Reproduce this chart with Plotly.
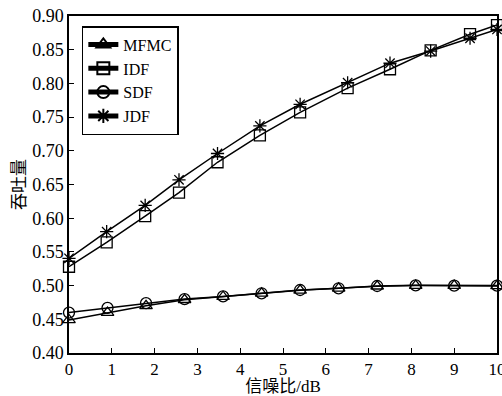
import plotly.graph_objects as go

# Data
x_low = [0, 0.9, 1.8, 2.7, 3.6, 4.5, 5.4, 6.3, 7.2, 8.1, 9.0, 10]
mfmc = [0.449, 0.460, 0.470, 0.479, 0.4835, 0.4886, 0.4930, 0.4960, 0.4990, 0.5000, 0.5000, 0.4995]
sdf = [0.460, 0.467, 0.474, 0.480, 0.4840, 0.4886, 0.4935, 0.4960, 0.4994, 0.5004, 0.5000, 0.5000]

x_high = [0, 0.88, 1.78, 2.57, 3.47, 4.46, 5.40, 6.51, 7.50, 8.45, 9.37, 10]
idf = [0.528, 0.564, 0.603, 0.638, 0.683, 0.723, 0.757, 0.793, 0.821, 0.849, 0.873, 0.8866]
jdf = [0.5405, 0.580, 0.619, 0.657, 0.696, 0.737, 0.769, 0.801, 0.830, 0.848, 0.867, 0.880]

series = [
    ("MFMC", x_low, mfmc, "triangle-up-open"),
    ("IDF", x_high, idf, "square-open"),
    ("SDF", x_low, sdf, "circle-open"),
    ("JDF", x_high, jdf, "asterisk-open"),
]

x_ticks = list(range(0, 11))
y_ticks = [0.40, 0.45, 0.50, 0.55, 0.60, 0.65, 0.70, 0.75, 0.80, 0.85, 0.90]

font_family = "Liberation Serif, Noto Sans CJK SC"

fig = go.Figure()
for name, xs, ys, sym in series:
    fig.add_trace(go.Scatter(
        x=xs, y=ys, name=name, mode="lines+markers",
        line=dict(color="black", width=1.5),
        marker=dict(symbol=sym, size=11, color="black",
                    line=dict(color="black", width=1.3)),
        cliponaxis=False,
    ))

fig.update_layout(
    width=502, height=396,
    margin=dict(l=69, r=5, t=16, b=43),
    paper_bgcolor="white", plot_bgcolor="white",
    font=dict(family=font_family, size=16, color="black"),
    showlegend=True,
    legend=dict(
        x=0.03, y=0.97, xanchor="left", yanchor="top",
        bordercolor="black", borderwidth=1.5, bgcolor="white",
        font=dict(family=font_family, size=16, color="black"),
        tracegroupgap=0, itemsizing="constant",
    ),
    xaxis=dict(
        range=[0, 10], tickvals=x_ticks, ticktext=[str(v) for v in x_ticks],
        showline=True, linecolor="black", linewidth=1.5, mirror=True,
        ticks="inside", ticklen=5, tickcolor="black", tickwidth=1.2,
        showgrid=False, zeroline=False, ticklabeloverflow="allow",
        automargin=False,
        title=dict(text="信噪比/dB", font=dict(size=17), standoff=2),
        tickfont=dict(size=17),
    ),
    yaxis=dict(
        range=[0.40, 0.90], tickvals=y_ticks,
        ticktext=[f"{v:.2f}" for v in y_ticks],
        showline=True, linecolor="black", linewidth=1.5, mirror=True,
        ticks="inside", ticklen=5, tickcolor="black", tickwidth=1.2,
        showgrid=False, zeroline=False, automargin=False,
        title=dict(text="吞吐量", font=dict(size=17), standoff=2),
        tickfont=dict(size=18),
    ),
)

fig.write_html("out.html", config={"displayModeBar": False},
               post_script="document.body.style.margin='0';")
